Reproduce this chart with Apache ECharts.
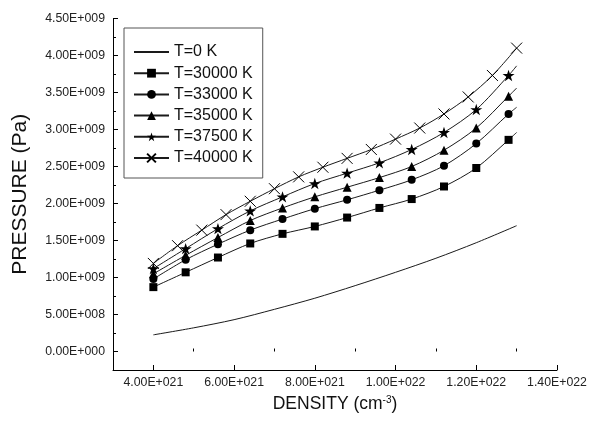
<!DOCTYPE html>
<html><head><meta charset="utf-8">
<script src="https://cdn.jsdelivr.net/npm/echarts@6/dist/echarts.min.js"></script>
<style>html,body{margin:0;padding:0;background:#fff}#c{width:590px;height:426px}</style>
</head><body><div id="c"></div>
<script>
// densities in units of 1e21 cm^-3, pressures in units of 1e9 Pa
const density = [4.0, 4.8, 5.6, 6.4, 7.2, 8.0, 8.8, 9.6, 10.4, 11.2, 12.0, 12.8, 13.0]; // last = curve end (no marker)
const p30000 = [0.87, 1.07, 1.27, 1.46, 1.59, 1.69, 1.81, 1.94, 2.06, 2.23, 2.48, 2.86, 2.96];
const p33000 = [0.98, 1.24, 1.45, 1.64, 1.79, 1.93, 2.05, 2.18, 2.32, 2.51, 2.81, 3.21, 3.30];
const p35000 = [1.05, 1.30, 1.54, 1.77, 1.94, 2.09, 2.22, 2.35, 2.50, 2.72, 3.02, 3.45, 3.56];
const p37500 = [1.12, 1.39, 1.66, 1.90, 2.09, 2.27, 2.41, 2.55, 2.73, 2.96, 3.27, 3.73, 3.86];
const density40000 = [4.0, 4.6, 5.2, 5.8, 6.4, 7.0, 7.6, 8.2, 8.8, 9.4, 10.0, 10.6, 11.2, 11.8, 12.4, 13.0];
const p40000 = [1.19, 1.43, 1.64, 1.85, 2.03, 2.20, 2.36, 2.49, 2.61, 2.73, 2.87, 3.02, 3.21, 3.44, 3.73, 4.10];
const density0 = [4.0, 5.0, 6.0, 7.0, 8.0, 9.0, 10.0, 11.0, 12.0, 13.0];
const p0 = [0.225, 0.32, 0.43, 0.57, 0.72, 0.89, 1.07, 1.26, 1.47, 1.70];
const names = ['T=0 K', 'T=30000 K', 'T=33000 K', 'T=35000 K', 'T=37500 K', 'T=40000 K'];
const xTicks = [4, 6, 8, 10, 12, 14];
const xMinor = [5, 7, 9, 11, 13];
const yTicks = [0, 0.5, 1.0, 1.5, 2.0, 2.5, 3.0, 3.5, 4.0, 4.5];
const yMinor = [0.25, 0.75, 1.25, 1.75, 2.25, 2.75, 3.25, 3.75, 4.25];
const XU = 1e21, YU = 1e9;

function sci(v) {
  if (Math.abs(v) < 1e-3) return '0.00E+000';
  let e = Math.floor(Math.log10(Math.abs(v)) + 1e-9);
  let ms = (v / Math.pow(10, e)).toFixed(2);
  if (parseFloat(ms) >= 10) { e++; ms = (v / Math.pow(10, e)).toFixed(2); }
  return ms + 'E' + (e < 0 ? '-' : '+') + String(Math.abs(e)).padStart(3, '0');
}
function pairs(xs, ys, lastNoMarker) {
  return xs.map((x, i) => {
    const item = { value: [x * XU, ys[i] * YU] };
    if (lastNoMarker && i === xs.length - 1) item.symbol = 'none';
    return item;
  });
}
const FONT = 'Liberation Sans, Arial, sans-serif';
const LINE = { color: '#1a1a1a', width: 1 };
const STAR = 'path://M50,0L61.2,34.5L97.6,34.5L68.2,55.9L79.4,90.5L50,69.1L20.6,90.5L31.8,55.9L2.4,34.5L38.8,34.5Z';
const CROSS = 'path://M0,0L10,10M10,0L0,10';

const base = { type: 'line', smooth: 0.3, lineStyle: LINE, xAxisIndex: 0, yAxisIndex: 0, z: 3 };
const series = [
  Object.assign({}, base, { name: names[0], data: pairs(density0, p0, false), symbol: 'none', itemStyle: { color: '#1a1a1a' } }),
  Object.assign({}, base, { name: names[1], data: pairs(density, p30000, true), symbol: 'rect', symbolSize: 8, itemStyle: { color: '#000' } }),
  Object.assign({}, base, { name: names[2], data: pairs(density, p33000, true), symbol: 'circle', symbolSize: 8, itemStyle: { color: '#000' } }),
  Object.assign({}, base, { name: names[3], data: pairs(density, p35000, true), symbol: 'triangle', symbolSize: 9, itemStyle: { color: '#000' } }),
  Object.assign({}, base, { name: names[4], data: pairs(density, p37500, true), symbol: STAR, symbolSize: 12, symbolKeepAspect: true, itemStyle: { color: '#000' } }),
  Object.assign({}, base, { name: names[5], data: pairs(density40000, p40000, false), symbol: CROSS, symbolSize: 11, itemStyle: { color: 'none', borderColor: '#000', borderWidth: 1 } })
];

const chart = echarts.init(document.getElementById('c'), null, { renderer: 'canvas' });
chart.setOption({
  animation: false,
  backgroundColor: '#fff',
  textStyle: { fontFamily: FONT },
  grid: { left: 113, right: 33, top: 18.5, bottom: 56, containLabel: false },
  legend: {
    orient: 'vertical', left: 124, top: 28,
    data: [{ name: names[0], itemStyle: { opacity: 0 } }].concat(names.slice(1).map(n => ({ name: n }))),
    itemWidth: 35, itemHeight: 11, itemGap: 5.2,
    padding: [16, 10, 12, 9],
    borderColor: '#555', borderWidth: 1, backgroundColor: '#fff',
    textStyle: { fontSize: 16, color: '#111', fontFamily: FONT },
    z: 10
  },
  xAxis: [{
    type: 'value', min: 3 * XU, max: 14 * XU, position: 'bottom',
    name: 'DENSITY (cm{sup|-3})', nameLocation: 'middle', nameGap: 25,
    nameTextStyle: { fontSize: 17.5, color: '#111', fontFamily: FONT, verticalAlign: 'top',
      rich: { sup: { fontSize: 10, verticalAlign: 'top', lineHeight: 10, color: '#111', fontFamily: FONT } } },
    axisLine: { show: true, onZero: false, lineStyle: { color: '#000', width: 1 } },
    axisTick: { show: true, inside: true, length: 5, customValues: xTicks.map(v => v * XU), lineStyle: { color: '#000' } },
    axisLabel: { show: true, margin: 7, fontSize: 12.3, color: '#222', fontFamily: FONT, customValues: xTicks.map(v => v * XU), formatter: sci },
    splitLine: { show: false }
  }, {
    type: 'value', min: 3 * XU, max: 14 * XU, position: 'bottom', offset: 0,
    axisLine: { show: false },
    axisTick: { show: true, inside: true, length: 3, customValues: xMinor.map(v => v * XU), lineStyle: { color: '#000' } },
    axisLabel: { show: false }, splitLine: { show: false }
  }],
  yAxis: [{
    type: 'value', min: -0.25 * YU, max: 4.5 * YU, position: 'left',
    name: 'PRESSURE (Pa)', nameLocation: 'middle', nameGap: 82, nameRotate: 90,
    nameTextStyle: { fontSize: 21, color: '#111', fontFamily: FONT },
    axisLine: { show: true, onZero: false, lineStyle: { color: '#000', width: 1 } },
    axisTick: { show: true, inside: true, length: 5, customValues: yTicks.map(v => v * YU), lineStyle: { color: '#000' } },
    axisLabel: { show: true, margin: 8, fontSize: 12.3, color: '#222', fontFamily: FONT, customValues: yTicks.map(v => v * YU), formatter: sci },
    splitLine: { show: false }
  }, {
    type: 'value', min: -0.25 * YU, max: 4.5 * YU, position: 'left', offset: 0,
    axisLine: { show: false },
    axisTick: { show: true, inside: true, length: 3, customValues: yMinor.map(v => v * YU), lineStyle: { color: '#000' } },
    axisLabel: { show: false }, splitLine: { show: false }
  }],
  series: series
});
</script>
</body></html>
